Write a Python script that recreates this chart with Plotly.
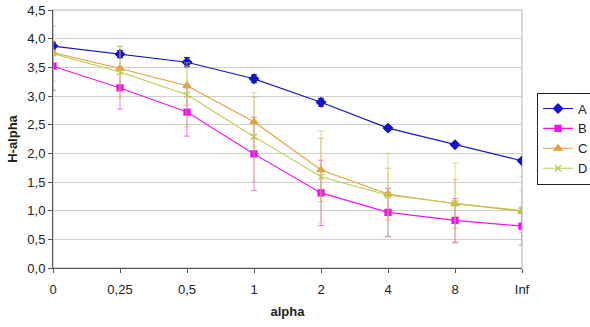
import plotly.graph_objects as go

categories = ["0", "0,25", "0,5", "1", "2", "4", "8", "Inf"]
y_ticks = [0, 0.5, 1, 1.5, 2, 2.5, 3, 3.5, 4, 4.5]
y_tick_labels = ["0,0", "0,5", "1,0", "1,5", "2,0", "2,5", "3,0", "3,5", "4,0", "4,5"]

A = [3.87, 3.73, 3.59, 3.30, 2.89, 2.44, 2.15, 1.87]
A_err = [0.07, 0.06, 0.08, 0.07, 0.07, 0.04, 0.03, 0.03]
B = [3.52, 3.14, 2.72, 1.99, 1.31, 0.97, 0.83, 0.73]
B_err = [0.42, 0.37, 0.42, 0.64, 0.57, 0.42, 0.38, 0.33]
C = [3.76, 3.48, 3.18, 2.55, 1.71, 1.29, 1.12, 0.99]
C_err = [0.30, 0.38, 0.34, 0.43, 0.55, 0.45, 0.43, 0.37]
D = [3.74, 3.42, 3.02, 2.29, 1.59, 1.27, 1.13, 1.00]
D_err = [0.48, 0.45, 0.56, 0.77, 0.80, 0.73, 0.70, 0.60]

series = [
    ("A", A, A_err, "#1414C8", "rgba(20,20,200,1)", "diamond", 7),
    ("B", B, B_err, "#F010F0", "rgba(240,16,240,0.6)", "square", 6),
    ("C", C, C_err, "#E4A040", "rgba(228,160,64,0.6)", "triangle-up", 7),
    ("D", D, D_err, "#BCCC50", "rgba(188,204,80,0.6)", "x-thin-open", 6),
]

fig = go.Figure()
for name, vals, errs, col, ecol, sym, sz in series:
    fig.add_trace(go.Scatter(
        x=categories, y=vals, name=name, mode="lines+markers",
        line=dict(color=col, width=1.1),
        marker=dict(symbol=sym, size=sz, color=col, line=dict(color=col, width=1.3)),
        error_y=dict(type="data", array=errs, visible=True, color=ecol, thickness=1, width=3),
    ))

fig.update_layout(
    width=590, height=327,
    margin=dict(l=53, r=68, t=10, b=59, autoexpand=False),
    paper_bgcolor="white", plot_bgcolor="white",
    font=dict(family="Liberation Sans, Arial, sans-serif", size=13, color="#222"),
    showlegend=True,
    legend=dict(x=1.032, y=0.68, xanchor="left", yanchor="top",
                bordercolor="#222", borderwidth=1, bgcolor="white",
                font=dict(size=13), itemwidth=30, tracegroupgap=0),
    shapes=[dict(type="rect", xref="paper", yref="paper", x0=0, x1=1, y0=0, y1=1,
                 line=dict(color="#b0b0b0", width=1), layer="below")],
)
fig.update_xaxes(
    type="category", range=[0, 7],
    showline=True, linecolor="#555", linewidth=1,
    ticks="outside", ticklen=4, tickcolor="#555",
    showgrid=False, ticklabelstandoff=5,
    title=dict(text="<b>alpha</b>", font=dict(size=13), standoff=11),
    tickfont=dict(size=13),
)
fig.update_yaxes(
    range=[0, 4.5], tickvals=y_ticks, ticktext=y_tick_labels,
    showline=True, linecolor="#555", linewidth=1,
    ticks="outside", ticklen=4, tickcolor="#555",
    showgrid=True, gridcolor="#d0d0d0", gridwidth=1,
    zeroline=False,
    title=dict(text="<b>H-alpha</b>", font=dict(size=13), standoff=6),
    tickfont=dict(size=13),
)

fig.write_html("out.html")
